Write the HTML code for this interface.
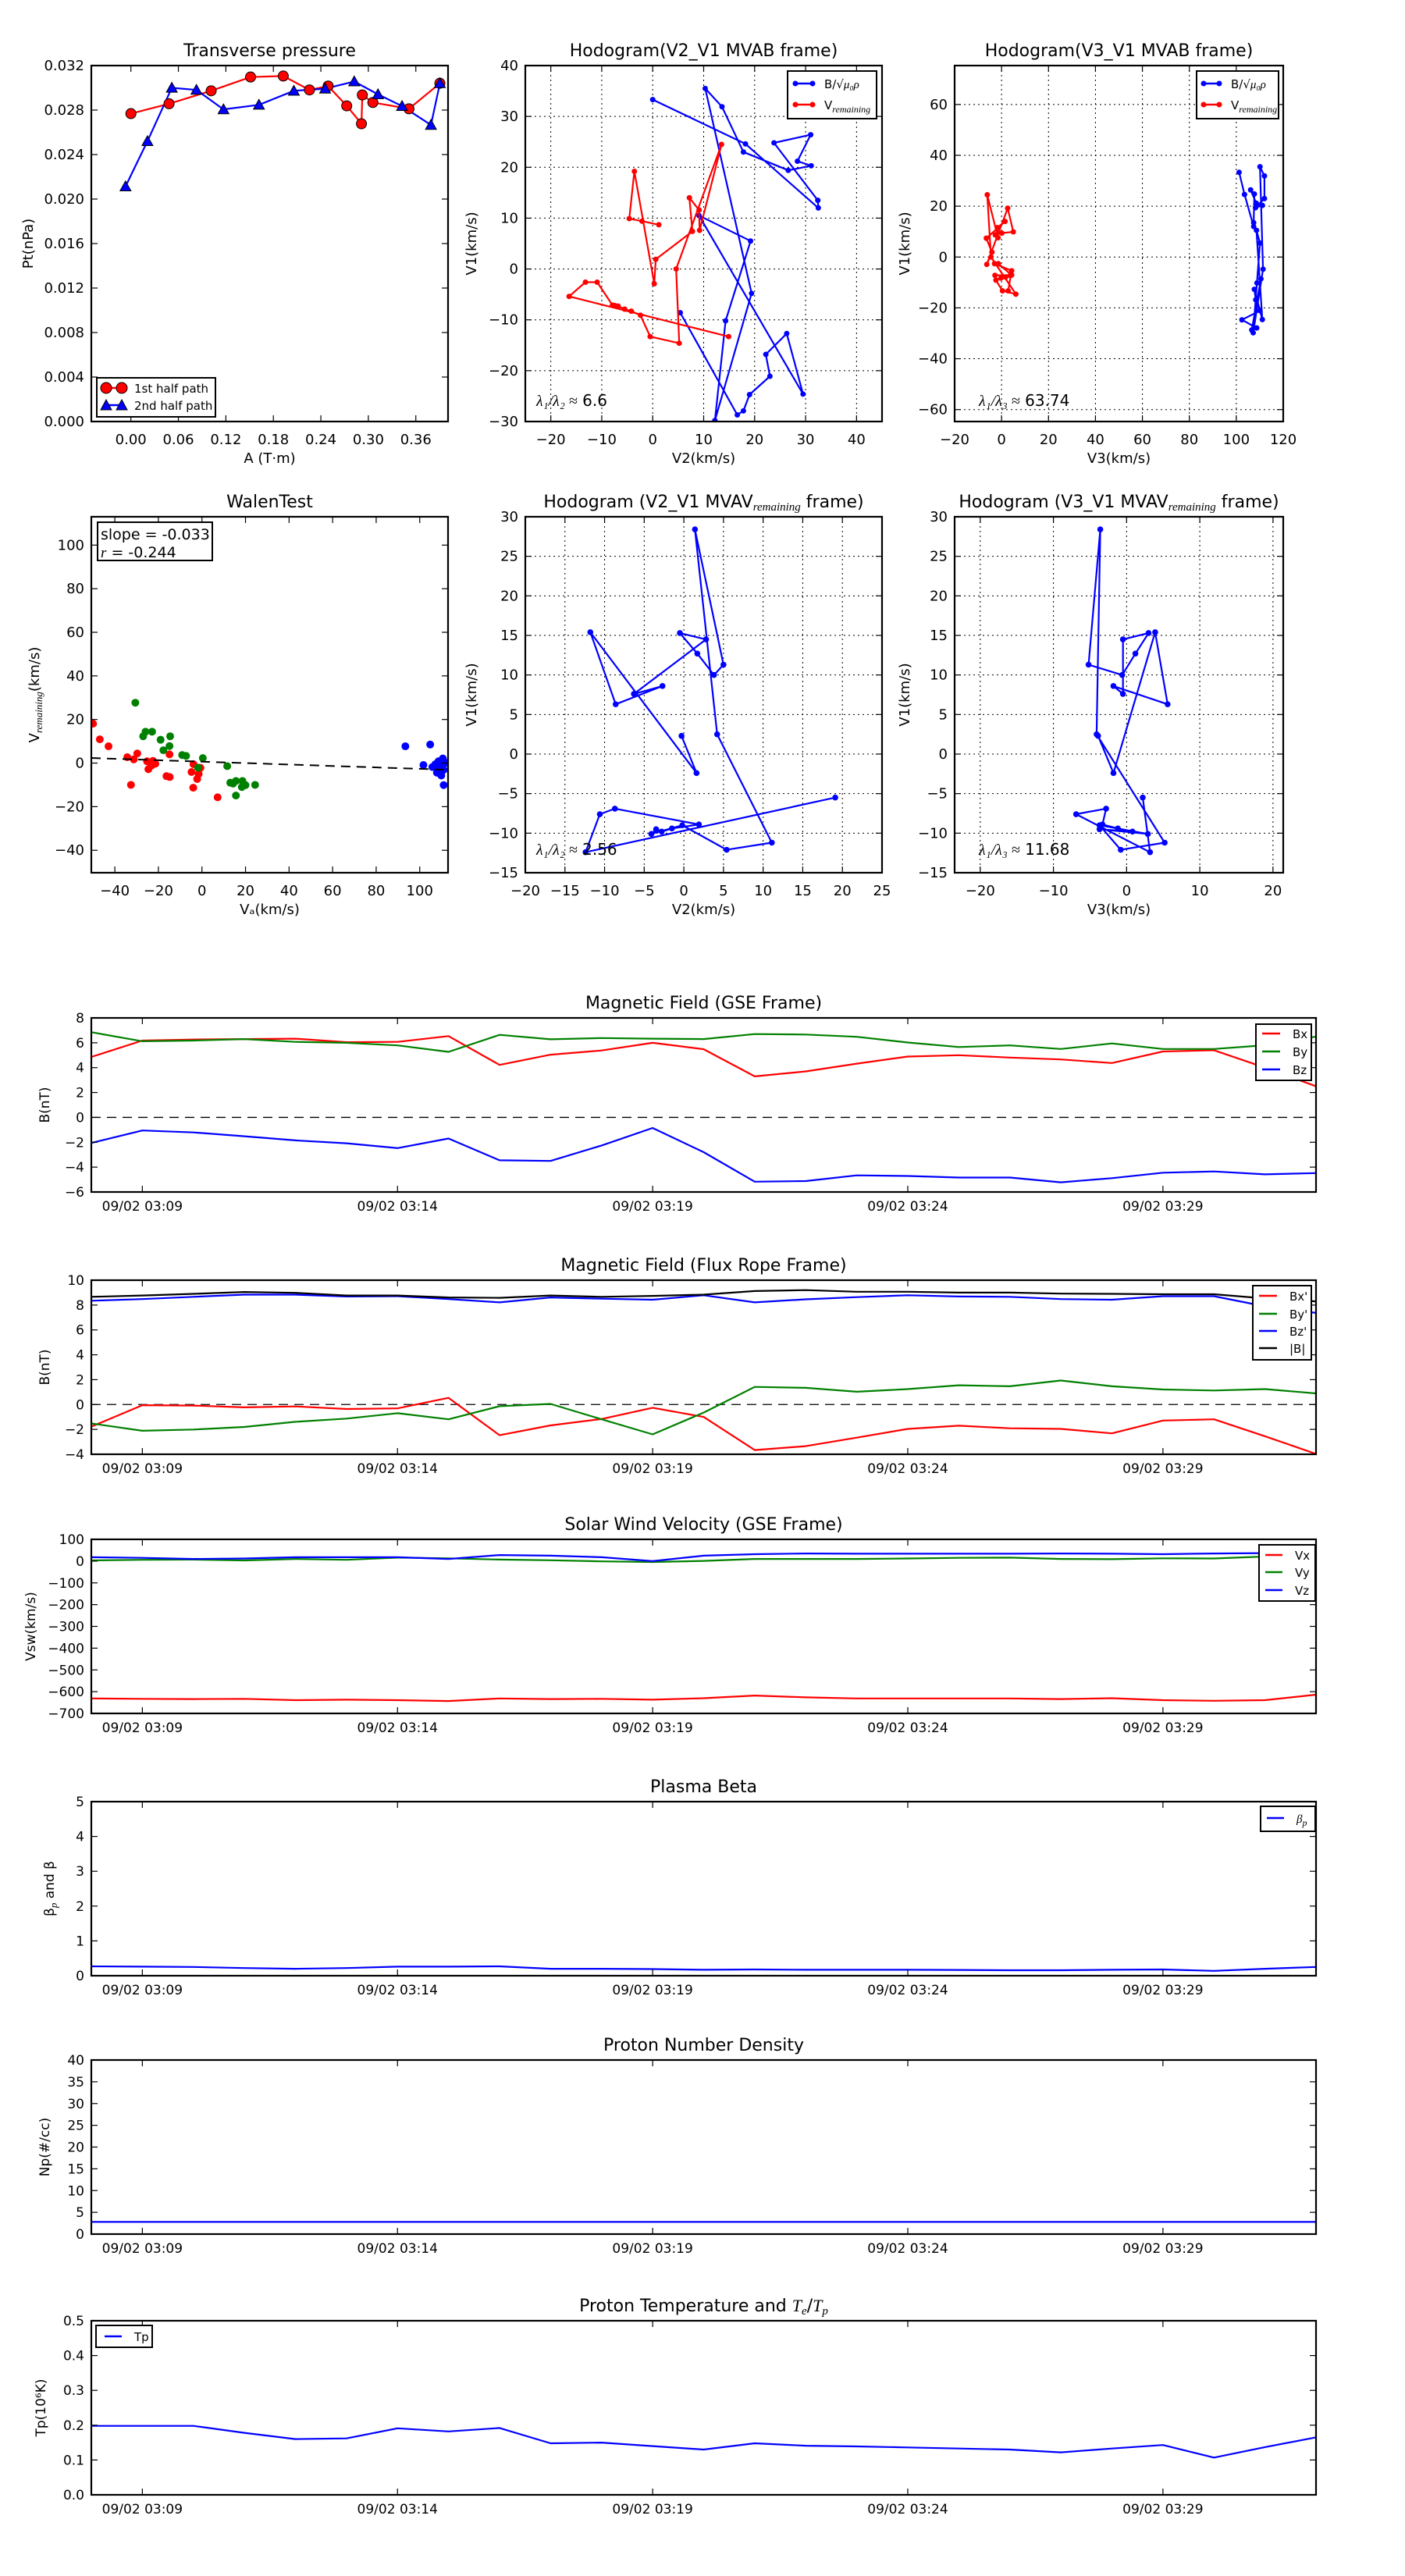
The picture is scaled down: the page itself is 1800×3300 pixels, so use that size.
<!DOCTYPE html>
<html><head><meta charset="utf-8"><title>Flux rope analysis</title>
<style>
html,body{margin:0;padding:0;background:#fff;}
svg{display:block;font-family:"DejaVu Sans","Liberation Sans",sans-serif;}
</style></head>
<body>
<svg id="chart" width="1800" height="3300" viewBox="0 0 1800 3300" xmlns="http://www.w3.org/2000/svg">
<rect x="0" y="0" width="1800" height="3300" fill="#fff"/>
</svg>
<script>
// ---------- Transverse pressure ----------
const ptA1 = [0, 0.0482, 0.1014, 0.1512, 0.1925, 0.2256, 0.2492, 0.2727, 0.2913, 0.2924, 0.3057, 0.3513, 0.3904];
const ptP1 = [0.02768, 0.02857, 0.02973, 0.03097, 0.03106, 0.02981, 0.03016, 0.02838, 0.02677, 0.02936, 0.02868, 0.02811, 0.03041];
const ptA2 = [-0.0068, 0.0209, 0.0517, 0.0828, 0.117, 0.1618, 0.2059, 0.2454, 0.2822, 0.3122, 0.3426, 0.3791, 0.3904];
const ptP2 = [0.02113, 0.0252, 0.0300, 0.02981, 0.02806, 0.02847, 0.02973, 0.02992, 0.03057, 0.02941, 0.02836, 0.02666, 0.03041];
const ptXTicks = [0, 0.06, 0.12, 0.18, 0.24, 0.30, 0.36];
const ptYTicks = [0, 0.004, 0.008, 0.012, 0.016, 0.020, 0.024, 0.028, 0.032];

// ---------- Hodogram MVAB ----------
const mvabBV2 = [0, 18.2, 32.5, 32.4, 23.8, 31.0, 28.4, 31.1, 26.6, 17.8, 13.6, 10.3, 19.4, 12.2, 14.3, 19.2, 9.1, 29.5, 26.3, 22.2, 23.0, 19.0, 17.8, 16.6, 5.4];
const mvabBV1 = [33.3, 24.6, 12.0, 13.5, 24.8, 26.4, 21.2, 20.3, 19.4, 23.0, 31.9, 35.5, -4.8, -29.8, -10.2, 5.5, 10.5, -24.6, -12.7, -16.8, -21.1, -24.7, -27.9, -28.7, -8.6];
const mvabBV3 = [101.2, 103.5, 107.4, 107.4, 107.7, 106.1, 108.5, 111.1, 108.2, 112, 112, 110.1, 111.4, 107.2, 108.8, 110.1, 108.6, 111.1, 107.7, 108.3, 110.1, 102.4, 108.7, 106.6, 110.5];
const mvabVV2 = [1.2, -2.1, -4.6, -3.6, 0.3, 0.6, 7.8, 7.2, 9.1, 9.2, 13.5, 4.6, 5.2, -0.5, -2.4, -4.2, -5.5, -6.8, -7.4, -7.9, -10.9, -13.2, -16.4, 14.9];
const mvabVV1 = [8.7, 9.4, 9.9, 19.2, -2.9, 1.9, 7.4, 14.0, 11.6, 7.6, 24.5, 0, -14.6, -13.3, -9.1, -8.3, -7.9, -7.3, -7.2, -7.1, -2.6, -2.6, -5.4, -13.3];
const mvabVV3 = [-2.7, 0.1, 5.0, 2.6, -6.3, -4.1, -6.5, 1.5, -1.8, -1.5, -6.1, -4.5, 6.1, 0.4, -2.4, -0.3, 1.7, 3.7, -2.8, 4.3, -1.4, -3.0, 4.3, 2.8];

// ---------- Walen test ----------
const walenRedX = [-50, -46.9, -42.9, -34.3, -31.3, -29.7, -32.6, -25.2, -24.6, -22.5, -21.4, -23.2, -14.9, -14.8, -16.3, -3.9, -0.7, -4.8, -2.2, -4, 7.2, -1.5];
const walenRedY = [18.1, 10.9, 7.7, 2.7, 1.7, 4.4, -10, 0.8, -2.8, 1, -0.3, -1.2, 4, -6.4, -6, -0.5, -2.2, -4.1, -7.3, -11.3, -15.7, -5];
const walenGreenX = [-30.6, -25.9, -22.9, -27, -19, -14.6, -14.9, -17.7, -9.1, -7.3, 0.4, -1.8, 11.6, 13, 15.6, 14.3, 18.6, 18.3, 20, 24.4, 15.6];
const walenGreenY = [27.7, 14.4, 14.4, 12.3, 10.7, 12.3, 7.8, 5.9, 3.7, 3.3, 2.3, -2.1, -1.4, -9, -8.2, -9.4, -8.2, -11, -10.1, -10, -14.9];
const walenBlueX = [93.4, 104.8, 101.7, 105.8, 107.2, 108.6, 109.9, 110.6, 111, 107.9, 109.9, 111, 109.2, 112];
const walenBlueY = [7.7, 8.5, -0.9, -1.8, -0.5, 0.8, -0.5, 2.1, -3.1, -4.4, -5.7, -10.1, -2.4, 0.1];
const walenSlope = -0.033;
const walenIntercept = 0.65;

// ---------- Hodogram MVAV remaining ----------
const mvavV2 = [-0.3, 1.6, -11.8, -8.6, -2.7, -6.3, 2.8, -0.5, 1.7, 3.8, 5.0, 1.4, 4.2, 11.1, 5.4, -0.2, -4.1, -3.5, -2.8, -1.5, 1.9, -8.7, -10.6, -12.4, 19.1];
const mvavV1 = [2.3, -2.4, 15.4, 6.3, 8.6, 7.6, 14.5, 15.3, 12.7, 10.0, 11.3, 28.4, 2.5, -11.2, -12.1, -9.0, -10.1, -9.5, -9.8, -9.4, -8.9, -6.9, -7.6, -12.4, -5.5];
const mvavV3 = [-3.9, -1.8, 3.9, 5.6, -1.8, -0.5, -0.5, 3.0, 1.2, -0.6, -5.2, -3.6, -4.1, 5.2, -0.8, -3.7, 2.9, -3.7, 0.8, -1.2, -3.3, -2.8, -6.9, 3.2, 2.2];

// ---------- Time series ----------
const minutes = [0,1,2,3,4,5,6,7,8,9,10,11,12,13,14,15,16,17,18,19,20,21,22,23,24];
const timeTickMinutes = [1, 6, 11, 16, 21];
const timeTickLabels = ["09/02 03:09", "09/02 03:14", "09/02 03:19", "09/02 03:24", "09/02 03:29"];
const gseBx = [4.86, 6.18, 6.26, 6.3, 6.33, 6.05, 6.07, 6.54, 4.22, 5.04, 5.38, 6.0, 5.48, 3.3, 3.7, 4.32, 4.89, 5.0, 4.81, 4.66, 4.37, 5.3, 5.4, 4.0, 2.5];
const gseBy = [6.85, 6.12, 6.18, 6.3, 6.07, 6.0, 5.79, 5.27, 6.64, 6.28, 6.38, 6.33, 6.3, 6.7, 6.66, 6.48, 6.02, 5.66, 5.79, 5.5, 5.95, 5.5, 5.5, 5.8, 6.5];
const gseBz = [-2.06, -1.05, -1.21, -1.52, -1.85, -2.08, -2.47, -1.7, -3.45, -3.5, -2.26, -0.85, -2.8, -5.17, -5.12, -4.66, -4.71, -4.84, -4.84, -5.22, -4.89, -4.45, -4.35, -4.58, -4.48];
const frBx = [-1.78, -0.05, -0.08, -0.23, -0.15, -0.36, -0.31, 0.54, -2.47, -1.68, -1.16, -0.26, -1.0, -3.66, -3.35, -2.66, -1.96, -1.7, -1.91, -1.96, -2.32, -1.29, -1.19, -2.55, -3.97];
const frBy = [-1.52, -2.11, -2.01, -1.8, -1.39, -1.13, -0.7, -1.19, -0.13, 0.05, -1.19, -2.4, -0.65, 1.42, 1.34, 1.03, 1.24, 1.55, 1.47, 1.93, 1.47, 1.21, 1.13, 1.24, 0.9];
const frBz = [8.35, 8.48, 8.66, 8.84, 8.84, 8.69, 8.71, 8.48, 8.22, 8.61, 8.51, 8.43, 8.79, 8.22, 8.46, 8.64, 8.79, 8.69, 8.66, 8.48, 8.43, 8.71, 8.71, 7.9, 7.37];
const frBt = [8.66, 8.77, 8.9, 9.05, 8.98, 8.77, 8.77, 8.61, 8.58, 8.77, 8.66, 8.74, 8.84, 9.13, 9.2, 9.07, 9.07, 9.0, 9.0, 8.92, 8.9, 8.87, 8.87, 8.53, 8.3];
const vswVx = [-631, -633, -634, -633, -639, -637, -639, -643, -631, -634, -633, -637, -630, -618, -626, -631, -631, -631, -631, -634, -630, -639, -642, -639, -614];
const vswVy = [3, 6, 7, 3, 10, 6, 16, 13, 7, 4, -1, -4, 1, 10, 10, 10, 12, 15, 16, 10, 9, 13, 12, 21, 0];
const vswVz = [18, 15, 10, 12, 18, 18, 18, 10, 28, 25, 18, 0, 25, 32, 35, 34, 34, 34, 34, 35, 34, 32, 35, 37, 31];
const betaP = [0.27, 0.26, 0.25, 0.22, 0.2, 0.22, 0.26, 0.26, 0.27, 0.2, 0.2, 0.19, 0.17, 0.18, 0.17, 0.17, 0.17, 0.165, 0.156, 0.156, 0.17, 0.18, 0.14, 0.2, 0.25];
const densNp = [2.8, 2.8, 2.8, 2.8, 2.8, 2.8, 2.8, 2.8, 2.8, 2.8, 2.8, 2.8, 2.8, 2.8, 2.8, 2.8, 2.8, 2.8, 2.8, 2.8, 2.8, 2.8, 2.8, 2.8, 2.8];
const tempTp = [0.198, 0.198, 0.198, 0.178, 0.16, 0.162, 0.191, 0.182, 0.192, 0.148, 0.15, 0.14, 0.13, 0.148, 0.141, 0.139, 0.136, 0.133, 0.13, 0.122, 0.133, 0.143, 0.107, 0.137, 0.165];

const NS = "http://www.w3.org/2000/svg";
const svg = document.getElementById('chart');
let clipId = 0;
function mk(tag, attrs, parent) {
  const e = document.createElementNS(NS, tag);
  for (const k in attrs) e.setAttribute(k, attrs[k]);
  (parent || svg).appendChild(e);
  return e;
}
function fmt(v, d) { return v.toFixed(d).replace('-', '\u2212'); }
function range(a, b, s) { const r = []; for (let v = a; v <= b + s * 1e-6; v += s) r.push(Math.round(v / s) * s); return r; }

function axes(o) {
  const g = mk('g', {});
  
  
  const sx = v => o.x0 + (v - o.xmin) / (o.xmax - o.xmin) * (o.x1 - o.x0);
  const sy = v => o.y1 - (v - o.ymin) / (o.ymax - o.ymin) * (o.y1 - o.y0);
  const cid = 'clip' + (clipId++);
  const cp = mk('clipPath', { id: cid }, g);
  mk('rect', { x: o.x0, y: o.y0, width: o.x1 - o.x0, height: o.y1 - o.y0 }, cp);
  const grid = mk('g', {}, g);
  
  
  const data = mk('g', { 'clip-path': 'url(#' + cid + ')' }, g);
  
  
  const fr = mk('g', {}, g);
  // ticks
  o.xticks.forEach((t, i) => {
    const x = sx(t);
    if (o.grid) {
      const gl = mk('line', { x1: x, x2: x, y1: o.y0, y2: o.y1, stroke: '#000', 'stroke-width': 1, 'stroke-dasharray': '2,4' }, grid);
      
      
    }
    mk('line', { x1: x, x2: x, y1: o.y1, y2: o.y1 - 8, stroke: '#000', 'stroke-width': 1.2 }, fr);
    mk('line', { x1: x, x2: x, y1: o.y0, y2: o.y0 + 8, stroke: '#000', 'stroke-width': 1.2 }, fr);
    const tl = mk('text', { x: x, y: o.y1 + (o.xtickDy || 29), 'text-anchor': 'middle', 'font-size': o.tickFs || 18 }, fr);
    tl.textContent = o.xlabels[i];
    
    
  });
  o.yticks.forEach((t, i) => {
    const y = sy(t);
    if (o.grid) {
      const gl = mk('line', { x1: o.x0, x2: o.x1, y1: y, y2: y, stroke: '#000', 'stroke-width': 1, 'stroke-dasharray': '2,4' }, grid);
      
      
    }
    mk('line', { x1: o.x0, x2: o.x0 + 8, y1: y, y2: y, stroke: '#000', 'stroke-width': 1.2 }, fr);
    mk('line', { x1: o.x1, x2: o.x1 - 8, y1: y, y2: y, stroke: '#000', 'stroke-width': 1.2 }, fr);
    const tl = mk('text', { x: o.x0 - 9, y: y + 6, 'text-anchor': 'end', 'font-size': o.tickFs || 18 }, fr);
    tl.textContent = o.ylabels[i];
    
    
  });
  const frame = mk('rect', { x: o.x0, y: o.y0, width: o.x1 - o.x0, height: o.y1 - o.y0, fill: 'none', stroke: '#000', 'stroke-width': 2.2 }, fr);
  
  
  // title
  const tt = mk('text', { x: (o.x0 + o.x1) / 2, y: o.y0 - 12, 'text-anchor': 'middle', 'font-size': o.titleFs || 22 }, fr);
  
  
  o.title.forEach(seg => {
    const ts = mk('tspan', {}, tt);
    ts.textContent = seg[0];
    if (seg[1] === 'sub') { ts.setAttribute('font-family', 'Liberation Serif, serif'); ts.setAttribute('font-style', 'italic'); ts.setAttribute('font-size', '15'); ts.setAttribute('dy', '4'); }
    if (seg[1] === 'back') { ts.setAttribute('dy', '-4'); }
    if (seg[1] === 'it') { ts.setAttribute('font-family', 'Liberation Serif, serif'); ts.setAttribute('font-style', 'italic'); }
  });
  if (o.xlabel) {
    const xl = mk('text', { x: (o.x0 + o.x1) / 2, y: o.y1 + 53, 'text-anchor': 'middle', 'font-size': 18 }, fr);
    xl.textContent = o.xlabel;
    
    
  }
  if (o.ylabel) {
    const cy = (o.y0 + o.y1) / 2;
    const yl = mk('text', { x: o.ylabelX, y: cy, 'text-anchor': 'middle', 'font-size': o.ylabelFs || 18, transform: 'rotate(-90 ' + o.ylabelX + ' ' + cy + ')' }, fr);
    
    
    o.ylabel.forEach(seg => {
      const ts = mk('tspan', {}, yl);
      ts.textContent = seg[0];
      if (seg[1] === 'sub') { ts.setAttribute('font-family', 'Liberation Serif, serif'); ts.setAttribute('font-style', 'italic'); ts.setAttribute('font-size', '13'); ts.setAttribute('dy', '4'); }
      if (seg[1] === 'back') { ts.setAttribute('dy', '-4'); }
    });
  }
  return { sx, sy, data, fr };
}

function polyline(ax, xs, ys, color, name, w) {
  const pts = xs.map((x, i) => ax.sx(x).toFixed(1) + ',' + ax.sy(ys[i]).toFixed(1)).join(' ');
  const p = mk('polyline', { points: pts, fill: 'none', stroke: color, 'stroke-width': w || 2.2, 'stroke-linejoin': 'round' }, ax.data);
  
  
  return p;
}
function dots(ax, xs, ys, color, name, r, stroke) {
  xs.forEach((x, i) => {
    const c = mk('circle', { cx: ax.sx(x), cy: ax.sy(ys[i]), r: r, fill: color }, ax.data);
    if (stroke) { c.setAttribute('stroke', '#000'); c.setAttribute('stroke-width', '1'); }
    
    
  });
}
function tris(ax, xs, ys, color, name, s) {
  xs.forEach((x, i) => {
    const cx = ax.sx(x), cy = ax.sy(ys[i]);
    const t = mk('polygon', { points: `${cx},${cy - s} ${cx - s},${cy + s * 0.8} ${cx + s},${cy + s * 0.8}`, fill: color, stroke: '#000', 'stroke-width': 1 }, ax.data);
    
    
  });
}
function legendBox(x, y, w, h, name) {
  const g = mk('g', {});
  
  
  mk('rect', { x: x, y: y, width: w, height: h, fill: '#fff', stroke: '#000', 'stroke-width': 2 }, g);
  return g;
}
function legendEntry(g, x1, x2, y, color, label, tx, fs, marker) {
  const e = mk('g', {}, g);
  
  
  mk('line', { x1: x1, x2: x2, y1: y, y2: y, stroke: color, 'stroke-width': 2.5 }, e);
  if (marker === 'dot') { mk('circle', { cx: x1, cy: y, r: 3.5, fill: color }, e); mk('circle', { cx: x2, cy: y, r: 3.5, fill: color }, e); }
  if (marker === 'bigdot') { mk('circle', { cx: x1, cy: y, r: 7, fill: color, stroke: '#000' }, e); mk('circle', { cx: x2, cy: y, r: 7, fill: color, stroke: '#000' }, e); }
  if (marker === 'tri') { [x1, x2].forEach(cx => mk('polygon', { points: `${cx},${y - 7} ${cx - 7},${y + 6} ${cx + 7},${y + 6}`, fill: color, stroke: '#000' }, e)); }
  const t = mk('text', { x: tx, y: y + 6, 'font-size': fs || 16 }, e);
  label.forEach(seg => {
    const ts = mk('tspan', {}, t);
    ts.textContent = seg[0];
    if (seg[1] === 'it') { ts.setAttribute('font-family', 'Liberation Serif, serif'); ts.setAttribute('font-style', 'italic'); }
    if (seg[1] === 'sub') { ts.setAttribute('font-family', 'Liberation Serif, serif'); ts.setAttribute('font-style', 'italic'); ts.setAttribute('font-size', '12'); ts.setAttribute('dy', '4'); }
  });
}
function note(x, y, str, val, name) {
  const t = mk('text', { x: x, y: y, 'font-size': 20 });
  
  
  const a = mk('tspan', { 'font-family': 'Liberation Serif, serif', 'font-style': 'italic' }, t);
  a.textContent = str;
  const b = mk('tspan', {}, t);
  b.textContent = ' ' + val;
}

// ===== Panel 1: Transverse pressure =====
const ax1 = axes({ name: 'transverse-pressure-chart', x0: 117, x1: 574, y0: 84, y1: 540, xmin: -0.05, xmax: 0.4007, ymin: 0, ymax: 0.032,
  xticks: ptXTicks, xlabels: ptXTicks.map(v => fmt(v, 2)), yticks: ptYTicks, ylabels: ptYTicks.map(v => fmt(v, 3)),
  title: [['Transverse pressure']], xlabel: 'A (T\u00b7m)', ylabel: [['Pt(nPa)']], ylabelX: 42 });
polyline(ax1, ptA1, ptP1, '#ff0000', 'first-half-path-line');
polyline(ax1, ptA2, ptP2, '#0000ff', 'second-half-path-line');
dots(ax1, ptA1, ptP1, '#ff0000', 'first-half-point', 6.5, true);
tris(ax1, ptA2, ptP2, '#0000ff', 'second-half-point', 7);
const lg1 = legendBox(124, 484, 152, 50, 'pressure-legend');
legendEntry(lg1, 136, 156, 497, '#ff0000', [['1st half path']], 172, 15, 'bigdot');
legendEntry(lg1, 136, 156, 519, '#0000ff', [['2nd half path']], 172, 15, 'tri');

// ===== Panel 2: Hodogram V2_V1 MVAB =====
const t10a = range(-20, 40, 10), t10b = range(-30, 40, 10);
const ax2 = axes({ name: 'hodogram-v2-v1-mvab', x0: 673, x1: 1130, y0: 84, y1: 540, xmin: -25, xmax: 45, ymin: -30, ymax: 40, grid: true,
  xticks: t10a, xlabels: t10a.map(v => fmt(v, 0)), yticks: t10b, ylabels: t10b.map(v => fmt(v, 0)),
  title: [['Hodogram(V2_V1 MVAB frame)']], xlabel: 'V2(km/s)', ylabel: [['V1(km/s)']], ylabelX: 610 });
polyline(ax2, mvabBV2, mvabBV1, '#0000ff', 'b-hodogram-line');
dots(ax2, mvabBV2, mvabBV1, '#0000ff', 'b-hodogram-point', 3.5);
polyline(ax2, mvabVV2, mvabVV1, '#ff0000', 'v-hodogram-line');
dots(ax2, mvabVV2, mvabVV1, '#ff0000', 'v-hodogram-point', 3.5);
const lg2 = legendBox(1009, 91, 114, 61, 'hodogram-legend');
legendEntry(lg2, 1019, 1041, 107, '#0000ff', [['B/\u221a'], ['\u03bc\u2080\u03c1', 'it']], 1056, 15, 'dot');
legendEntry(lg2, 1019, 1041, 134, '#ff0000', [['V'], ['remaining', 'sub']], 1056, 15, 'dot');
note(687, 520, '\u03bb\u2081/\u03bb\u2082 \u2248', '6.6', 'eigenvalue-ratio-note');

// ===== Panel 3: Hodogram V3_V1 MVAB =====
const t20a = range(-20, 120, 20), t20b = range(-60, 60, 20);
const ax3 = axes({ name: 'hodogram-v3-v1-mvab', x0: 1223, x1: 1644, y0: 84, y1: 540, xmin: -20, xmax: 120, ymin: -64.7, ymax: 75.3, grid: true,
  xticks: t20a, xlabels: t20a.map(v => fmt(v, 0)), yticks: t20b, ylabels: t20b.map(v => fmt(v, 0)),
  title: [['Hodogram(V3_V1 MVAB frame)']], xlabel: 'V3(km/s)', ylabel: [['V1(km/s)']], ylabelX: 1165 });
polyline(ax3, mvabBV3, mvabBV1, '#0000ff', 'b-hodogram-line');
dots(ax3, mvabBV3, mvabBV1, '#0000ff', 'b-hodogram-point', 3.5);
polyline(ax3, mvabVV3, mvabVV1, '#ff0000', 'v-hodogram-line');
dots(ax3, mvabVV3, mvabVV1, '#ff0000', 'v-hodogram-point', 3.5);
const lg3 = legendBox(1533, 91, 105, 61, 'hodogram-legend');
legendEntry(lg3, 1542, 1562, 107, '#0000ff', [['B/\u221a'], ['\u03bc\u2080\u03c1', 'it']], 1577, 15, 'dot');
legendEntry(lg3, 1542, 1562, 134, '#ff0000', [['V'], ['remaining', 'sub']], 1577, 15, 'dot');
note(1254, 520, '\u03bb\u2081/\u03bb\u2083 \u2248', '63.74', 'eigenvalue-ratio-note');

// ===== Panel 4: Walen test =====
const tw = range(-40, 100, 20);
const ax4 = axes({ name: 'walen-test-chart', x0: 117, x1: 574, y0: 662, y1: 1118, xmin: -50.8, xmax: 113, ymin: -50.3, ymax: 113,
  xticks: tw, xlabels: tw.map(v => fmt(v, 0)), yticks: tw, ylabels: tw.map(v => fmt(v, 0)),
  title: [['WalenTest']], xlabel: 'V\u2090(km/s)', ylabel: [['V'], ['remaining', 'sub'], ['(km/s)', 'back']], ylabelX: 50 });
dots(ax4, walenRedX, walenRedY, '#ff0000', 'walen-point-red', 5);
dots(ax4, walenGreenX, walenGreenY, '#008000', 'walen-point-green', 5);
dots(ax4, walenBlueX, walenBlueY, '#0000ff', 'walen-point-blue', 5);
const fitLine = mk('line', { x1: ax4.sx(-50.8), y1: ax4.sy(walenIntercept + walenSlope * -50.8), x2: ax4.sx(113), y2: ax4.sy(walenIntercept + walenSlope * 113), stroke: '#000', 'stroke-width': 2, 'stroke-dasharray': '12,8' }, ax4.data);


const wb = legendBox(125, 669, 147, 49, 'walen-stats-box');
const ws1 = mk('text', { x: 129, y: 691, 'font-size': 19 }, wb);
ws1.textContent = 'slope = \u22120.033'.replace('\u2212', '-');


const ws2 = mk('text', { x: 129, y: 714, 'font-size': 19 }, wb);


const ws2a = mk('tspan', { 'font-family': 'Liberation Serif, serif', 'font-style': 'italic' }, ws2); ws2a.textContent = 'r';
const ws2b = mk('tspan', {}, ws2); ws2b.textContent = ' = -0.244';

// ===== Panel 5: Hodogram V2_V1 MVAV =====
const t5a = range(-20, 25, 5), t5b = range(-15, 30, 5);
const ax5 = axes({ name: 'hodogram-v2-v1-mvav', x0: 673, x1: 1130, y0: 662, y1: 1118, xmin: -20, xmax: 25, ymin: -15, ymax: 30, grid: true,
  xticks: t5a, xlabels: t5a.map(v => fmt(v, 0)), yticks: t5b, ylabels: t5b.map(v => fmt(v, 0)),
  title: [['Hodogram (V2_V1 MVAV'], ['remaining', 'sub'], [' frame)', 'back']], xlabel: 'V2(km/s)', ylabel: [['V1(km/s)']], ylabelX: 610 });
polyline(ax5, mvavV2, mvavV1, '#0000ff', 'hodogram-line');
dots(ax5, mvavV2, mvavV1, '#0000ff', 'hodogram-point', 3.8);
note(687, 1095, '\u03bb\u2081/\u03bb\u2082 \u2248', '2.56', 'eigenvalue-ratio-note');

// ===== Panel 6: Hodogram V3_V1 MVAV =====
const t6a = range(-20, 20, 10);
const ax6 = axes({ name: 'hodogram-v3-v1-mvav', x0: 1223, x1: 1644, y0: 662, y1: 1118, xmin: -23.5, xmax: 21.4, ymin: -15, ymax: 30, grid: true,
  xticks: t6a, xlabels: t6a.map(v => fmt(v, 0)), yticks: t5b, ylabels: t5b.map(v => fmt(v, 0)),
  title: [['Hodogram (V3_V1 MVAV'], ['remaining', 'sub'], [' frame)', 'back']], xlabel: 'V3(km/s)', ylabel: [['V1(km/s)']], ylabelX: 1165 });
polyline(ax6, mvavV3, mvavV1, '#0000ff', 'hodogram-line');
dots(ax6, mvavV3, mvavV1, '#0000ff', 'hodogram-point', 3.8);
note(1254, 1095, '\u03bb\u2081/\u03bb\u2083 \u2248', '11.68', 'eigenvalue-ratio-note');

// ===== Time series panels =====
function tsAxes(name, top, ymin, ymax, step, dec, title, ylabel, ylx) {
  const yt = range(ymin, ymax, step);
  return axes({ name: name, x0: 117, x1: 1686, y0: top, y1: top + 223, xmin: 0, xmax: 24, ymin: ymin, ymax: ymax,
    xticks: timeTickMinutes, xlabels: timeTickLabels, yticks: yt, ylabels: yt.map(v => fmt(v, dec)),
    title: title, ylabel: ylabel, ylabelX: ylx, tickFs: 17, xtickDy: 24, titleFs: 22, ylabelFs: 17 });
}
function zeroLine(ax) {
  const z = mk('line', { x1: 117, x2: 1686, y1: ax.sy(0), y2: ax.sy(0), stroke: '#000', 'stroke-width': 1.3, 'stroke-dasharray': '12,8' }, ax.data);
  
  
}

const axG = tsAxes('magnetic-field-gse-chart', 1304, -6, 8, 2, 0, [['Magnetic Field (GSE Frame)']], [['B(nT)']], 63);
zeroLine(axG);
polyline(axG, minutes, gseBx, '#ff0000', 'bx-line');
polyline(axG, minutes, gseBy, '#008000', 'by-line');
polyline(axG, minutes, gseBz, '#0000ff', 'bz-line');
const lgG = legendBox(1609, 1312, 71, 72, 'gse-legend');
legendEntry(lgG, 1617, 1640, 1324, '#ff0000', [['Bx']], 1656, 15);
legendEntry(lgG, 1617, 1640, 1347, '#008000', [['By']], 1656, 15);
legendEntry(lgG, 1617, 1640, 1370, '#0000ff', [['Bz']], 1656, 15);

const axF = tsAxes('magnetic-field-flux-rope-chart', 1640, -4, 10, 2, 0, [['Magnetic Field (Flux Rope Frame)']], [['B(nT)']], 63);
zeroLine(axF);
polyline(axF, minutes, frBx, '#ff0000', 'bx-prime-line');
polyline(axF, minutes, frBy, '#008000', 'by-prime-line');
polyline(axF, minutes, frBz, '#0000ff', 'bz-prime-line');
polyline(axF, minutes, frBt, '#000000', 'b-magnitude-line');
const lgF = legendBox(1605, 1647, 75, 95, 'flux-rope-legend');
legendEntry(lgF, 1613, 1636, 1660, '#ff0000', [["Bx'"]], 1652, 15);
legendEntry(lgF, 1613, 1636, 1683, '#008000', [["By'"]], 1652, 15);
legendEntry(lgF, 1613, 1636, 1705, '#0000ff', [["Bz'"]], 1652, 15);
legendEntry(lgF, 1613, 1636, 1727, '#000000', [['|B|']], 1652, 15);

const axV = tsAxes('solar-wind-velocity-chart', 1972, -700, 100, 100, 0, [['Solar Wind Velocity (GSE Frame)']], [['Vsw(km/s)']], 45);
polyline(axV, minutes, vswVx, '#ff0000', 'vx-line');
polyline(axV, minutes, vswVy, '#008000', 'vy-line');
polyline(axV, minutes, vswVz, '#0000ff', 'vz-line');
const lgV = legendBox(1613, 1979, 72, 72, 'velocity-legend');
legendEntry(lgV, 1621, 1643, 1992, '#ff0000', [['Vx']], 1659, 15);
legendEntry(lgV, 1621, 1643, 2014, '#008000', [['Vy']], 1659, 15);
legendEntry(lgV, 1621, 1643, 2037, '#0000ff', [['Vz']], 1659, 15);

const axB = tsAxes('plasma-beta-chart', 2308, 0, 5, 1, 0, [['Plasma Beta']], [['\u03b2'], ['p', 'sub'], [' and \u03b2', 'back']], 69);
polyline(axB, minutes, betaP, '#0000ff', 'beta-p-line');
const lgB = legendBox(1615, 2314, 70, 32, 'beta-legend');
legendEntry(lgB, 1623, 1645, 2329, '#0000ff', [['\u03b2', 'it'], ['p', 'sub']], 1661, 15);

const axN = tsAxes('proton-density-chart', 2639, 0, 40, 5, 0, [['Proton Number Density']], [['Np(#/cc)']], 63);
polyline(axN, minutes, densNp, '#0000ff', 'density-line');

const axT = tsAxes('proton-temperature-chart', 2973, 0, 0.5, 0.1, 1, [['Proton Temperature and '], ['T', 'it'], ['e', 'sub'], ['/', 'back'], ['T', 'it'], ['p', 'sub']], [['Tp(10\u2076K)']], 58);
polyline(axT, minutes, tempTp, '#0000ff', 'temperature-line');
const lgT = legendBox(123, 2979, 72, 28, 'temperature-legend');
legendEntry(lgT, 134, 156, 2993, '#0000ff', [['Tp']], 172, 15);
</script>
</body></html>
